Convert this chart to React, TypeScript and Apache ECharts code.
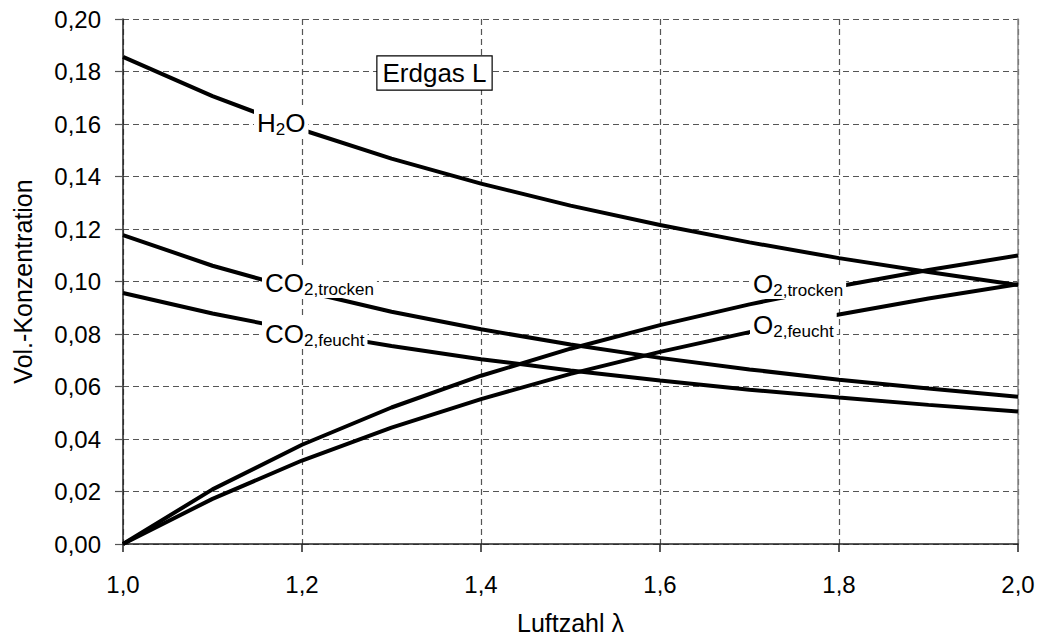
import React, { useEffect, useRef } from "react";
import * as echarts from "echarts";

const lambda = [1.0, 1.1, 1.2, 1.3, 1.4, 1.5, 1.6, 1.7, 1.8, 1.9, 2.0];
const h2o = [0.1856, 0.1706, 0.1578, 0.1468, 0.1373, 0.1289, 0.1215, 0.1149, 0.1089, 0.1036, 0.0987];
const co2Trocken = [0.1177, 0.106, 0.0965, 0.0885, 0.0818, 0.076, 0.0709, 0.0665, 0.0626, 0.0592, 0.0561];
const co2Feucht = [0.0956, 0.0878, 0.0811, 0.0754, 0.0704, 0.0661, 0.0623, 0.0588, 0.0558, 0.053, 0.0505];
const o2Trocken = [0, 0.0208, 0.0378, 0.052, 0.0641, 0.0744, 0.0834, 0.0913, 0.0982, 0.1044, 0.1099];
const o2Feucht = [0, 0.0172, 0.0318, 0.0443, 0.0552, 0.0648, 0.0732, 0.0807, 0.0874, 0.0935, 0.099];

const FONT = "'Liberation Sans', Arial, Helvetica, sans-serif";

function pairs(ys: number[]) {
  return lambda.map((x, i) => [x, ys[i]]);
}

function label(x: number, y: number, main: string, sub: string, tail = "") {
  const text = tail ? `{m|${main}}{s|${sub}}{m|${tail}}` : `{m|${main}}{s|${sub}}`;
  return {
    type: "text",
    x,
    y,
    z: 100,
    style: {
      text,
      align: "left",
      verticalAlign: "middle",
      backgroundColor: "#fff",
      padding: [0, 3],
      rich: {
        m: { fontSize: 26, fontFamily: FONT, fill: "#000", verticalAlign: "middle", lineHeight: 30 },
        s: { fontSize: 17, fontFamily: FONT, fill: "#000", verticalAlign: "bottom", lineHeight: 30 },
      },
    },
  };
}

export default function App() {
  const ref = useRef<HTMLDivElement>(null);
  useEffect(() => {
    if (!ref.current) return;
    const chart = echarts.init(ref.current, undefined, { renderer: "svg" });
    const lineSeries = (name: string, ys: number[]) => ({
      name,
      type: "line",
      data: pairs(ys),
      showSymbol: false,
      symbol: "none",
      lineStyle: { color: "#000", width: 4 },
      z: 5,
    });
    chart.setOption({
      animation: false,
      backgroundColor: "#fff",
      grid: { left: 123, right: 20, top: 19, bottom: 92, containLabel: false, outerBoundsMode: "none" },
      xAxis: {
        type: "value",
        min: 1,
        max: 2,
        interval: 0.2,
        name: "Luftzahl λ",
        nameLocation: "middle",
        nameGap: 66,
        nameTextStyle: { fontSize: 25, fontFamily: FONT, color: "#000" },
        axisLine: { show: true, lineStyle: { color: "#222", width: 1.5 } },
        axisTick: { show: true, length: 8, inside: false, lineStyle: { color: "#222", width: 1.5 } },
        axisLabel: {
          fontSize: 24,
          fontFamily: FONT,
          color: "#000",
          margin: 28,
          formatter: (v: number) => v.toFixed(1).replace(".", ","),
        },
        splitLine: { show: true, lineStyle: { color: "#555", type: [6, 4], width: 1.2 } },
      },
      yAxis: [
        {
          type: "value",
          min: 0,
          max: 0.2,
          interval: 0.02,
          name: "Vol.-Konzentration",
          nameLocation: "middle",
          nameGap: 88,
          nameTextStyle: { fontSize: 25, fontFamily: FONT, color: "#000" },
          axisLine: { show: true, lineStyle: { color: "#222", width: 1.5 } },
          axisTick: { show: true, length: 8, lineStyle: { color: "#555", width: 1.2 } },
          axisLabel: {
            fontSize: 24,
            fontFamily: FONT,
            color: "#000",
            margin: 22,
            formatter: (v: number) => v.toFixed(2).replace(".", ","),
          },
          splitLine: { show: true, lineStyle: { color: "#555", type: [6, 4], width: 1.2 } },
        },
        {
          type: "value",
          min: 0,
          max: 0.2,
          interval: 0.02,
          position: "right",
          axisLine: { show: true, lineStyle: { color: "#888", width: 1.5 } },
          axisTick: { show: false },
          axisLabel: { show: false },
          splitLine: { show: false },
        },
      ],
      series: [
        lineSeries("H2O", h2o),
        lineSeries("CO2,trocken", co2Trocken),
        lineSeries("CO2,feucht", co2Feucht),
        lineSeries("O2,trocken", o2Trocken),
        lineSeries("O2,feucht", o2Feucht),
      ],
      graphic: [
        label(254, 123, "H", "2", "O"),
        label(262, 283, "CO", "2,trocken"),
        label(262, 334, "CO", "2,feucht"),
        label(750, 284, "O", "2,trocken"),
        label(750, 325, "O", "2,feucht"),
        {
          type: "text",
          x: 434.5,
          y: 73,
          z: 100,
          style: {
            text: "Erdgas L",
            align: "center",
            verticalAlign: "middle",
            fontSize: 26,
            fontFamily: FONT,
            fill: "#000",
            backgroundColor: "#fff",
            borderColor: "#000",
            borderWidth: 1.2,
            padding: [4, 5, 3, 5],
          },
        },
      ],
    });
    return () => chart.dispose();
  }, []);
  return (
    <div
      ref={ref}
      style={{ position: "fixed", left: 0, top: 0, width: 1038, height: 636, background: "#fff" }}
    />
  );
}
